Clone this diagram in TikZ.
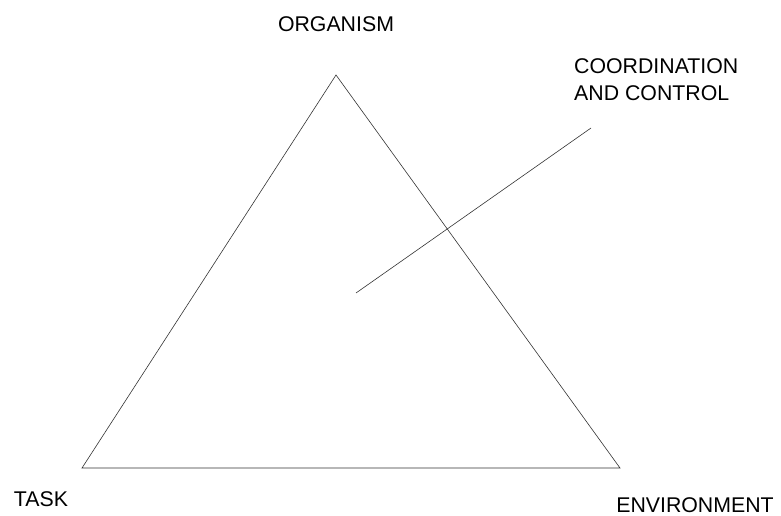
\documentclass[tikz,border=0pt]{standalone}
\usepackage{fontspec}
\setmainfont{Liberation Sans}
\usetikzlibrary{positioning}

\begin{document}
\begin{tikzpicture}[x=1pt,y=-1pt,
    label/.style={
% The text:
font=\fontsize{21.3}{27}\selectfont,
% The size:
inner sep=0pt,
},
    side/.style={
% The border:
line width=0.6pt, draw=black!80,
},
]
  \useasboundingbox (0,0) rectangle (781,516);
  \coordinate (o) at (336, 75);
  \coordinate (t) at (82, 468);
  \coordinate (e) at (620, 468);
  \coordinate (c1) at (356, 293);
  \coordinate (c2) at (591, 128);
  \node[label] (O) at (336, 24) {ORGANISM};
  \node[label] (T) at (41, 499) {TASK};
  \node[label] (E) at (695, 505.5) {ENVIRONMENT};
  \node[label, align=left, anchor=north west] (C) at (574, 58) {COORDINATION\\AND CONTROL};
  \draw [side] (o) -- (t) -- (e) -- cycle;
  \draw [side] (c1) -- (c2);

\end{tikzpicture}
\end{document}
